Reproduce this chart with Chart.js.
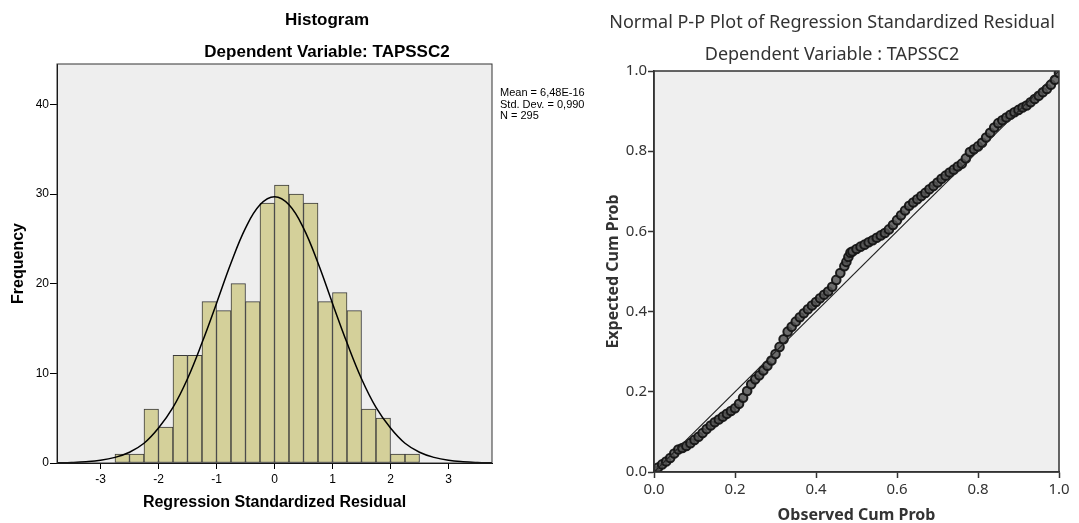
<!DOCTYPE html>
<html>
<head>
<meta charset="utf-8">
<script src="https://cdn.jsdelivr.net/npm/chart.js@4.4.1/dist/chart.umd.min.js"></script>
<style>
  body { margin: 0; background: #fff; width: 1079px; height: 523px; overflow: hidden; position: relative; }
  #histWrap { position: absolute; left: 0; top: 0; width: 654px; height: 523px; }
  #ppWrap { position: absolute; left: 585px; top: 0; width: 494px; height: 523px; }
  #stats { position: absolute; left: 500px; top: 87px; font: 11px "Liberation Sans", Arial, sans-serif; line-height: 11.5px; color: #000; z-index: 5; }
</style>
</head>
<body>
<div id="histWrap"><canvas id="histChart" width="654" height="523"></canvas></div>
<div id="ppWrap"><canvas id="ppChart" width="494" height="523"></canvas></div>
<div id="stats">Mean = 6,48E-16<br>Std. Dev. = 0,990<br>N = 295</div>
<script>
// Histogram bins (centre of each 0.25 wide bin) and counts
const binCenters = [-2.625, -2.375, -2.125, -1.875, -1.625, -1.375, -1.125, -0.875, -0.625, -0.375, -0.125,
                    0.125, 0.375, 0.625, 0.875, 1.125, 1.375, 1.625, 1.875, 2.125, 2.375];
const frequencies = [1, 1, 6, 4, 12, 12, 18, 17, 20, 18, 29, 31, 30, 29, 18, 19, 17, 6, 5, 1, 1];

// Normal curve
const curveX = [-3.75, -3.5, -3.25, -3, -2.75, -2.5, -2.25, -2, -1.75, -1.5, -1.25, -1, -0.75, -0.5, -0.25, 0,
                0.25, 0.5, 0.75, 1, 1.25, 1.5, 1.75, 2, 2.25, 2.5, 2.75, 3, 3.25, 3.5, 3.75];
const curveY = [0.02, 0.06, 0.14, 0.30, 0.63, 1.2, 2.2, 3.9, 6.2, 9.4, 13.4, 17.8, 22.3, 26.2, 28.8, 29.7,
                28.8, 26.2, 22.3, 17.8, 13.4, 9.4, 6.2, 3.9, 2.2, 1.2, 0.63, 0.30, 0.14, 0.06, 0.02];

const histXTicks = [-3, -2, -1, 0, 1, 2, 3];
const histYTicks = [0, 10, 20, 30, 40];

// P-P plot points
const ppObserved = [0.00, 0.01, 0.02, 0.03, 0.04, 0.05, 0.06, 0.07, 0.08, 0.09,
                    0.10, 0.11, 0.12, 0.13, 0.14, 0.15, 0.16, 0.17, 0.18, 0.19,
                    0.20, 0.21, 0.22, 0.23, 0.24, 0.25, 0.26, 0.27, 0.28, 0.29,
                    0.30, 0.31, 0.32, 0.33, 0.34, 0.35, 0.36, 0.37, 0.38, 0.39,
                    0.40, 0.41, 0.42, 0.43, 0.44, 0.45, 0.46, 0.47, 0.475, 0.48, 0.485,
                    0.49, 0.50, 0.51, 0.52, 0.53, 0.54, 0.55, 0.56, 0.57, 0.58, 0.59,
                    0.60, 0.61, 0.62, 0.63, 0.64, 0.65, 0.66, 0.67, 0.68, 0.69,
                    0.70, 0.71, 0.72, 0.73, 0.74, 0.75, 0.76, 0.77, 0.78, 0.79,
                    0.80, 0.81, 0.82, 0.83, 0.84, 0.85, 0.86, 0.87, 0.88, 0.89,
                    0.90, 0.91, 0.92, 0.93, 0.94, 0.95, 0.96, 0.97, 0.98, 0.99, 1.00];
const ppExpected = [0.003, 0.011, 0.019, 0.026, 0.035, 0.046, 0.056, 0.060, 0.065, 0.072,
                    0.080, 0.088, 0.097, 0.107, 0.116, 0.124, 0.131, 0.138, 0.145, 0.152,
                    0.159, 0.170, 0.185, 0.202, 0.219, 0.231, 0.241, 0.253, 0.265, 0.278,
                    0.294, 0.312, 0.331, 0.350, 0.362, 0.375, 0.386, 0.396, 0.406, 0.415,
                    0.424, 0.433, 0.442, 0.450, 0.462, 0.479, 0.496, 0.513, 0.524, 0.536, 0.547,
                    0.550, 0.556, 0.562, 0.567, 0.573, 0.578, 0.584, 0.590, 0.596, 0.605, 0.616,
                    0.628, 0.640, 0.652, 0.664, 0.672, 0.680, 0.688, 0.696, 0.705, 0.713,
                    0.722, 0.731, 0.739, 0.747, 0.754, 0.762, 0.769, 0.782, 0.798, 0.805,
                    0.812, 0.821, 0.834, 0.846, 0.859, 0.870, 0.877, 0.884, 0.891, 0.897,
                    0.903, 0.909, 0.914, 0.922, 0.930, 0.938, 0.947, 0.955, 0.966, 0.978, 0.995];
const diagonal = [0, 1];
const ppTicks = [0, 0.2, 0.4, 0.6, 0.8, 1.0];

// plot background + frame
const plotFrame = {
    id: 'plotFrame',
    beforeDraw(chart, args, opts) {
        const { ctx, chartArea: a } = chart;
        ctx.save();
        ctx.fillStyle = opts.fill;
        ctx.fillRect(a.left, a.top, a.right - a.left, a.bottom - a.top);
        ctx.restore();
    },
    afterDraw(chart, args, opts) {
        const { ctx, chartArea: a } = chart;
        ctx.save();
        ctx.strokeStyle = opts.stroke;
        ctx.lineWidth = opts.width;
        ctx.strokeRect(a.left, a.top, a.right - a.left, a.bottom - a.top);
        ctx.restore();
    }
};

// empty axis on the right, only to reserve space so titles stay centred on the whole canvas
function spacer(w) {
    return {
        type: 'linear', position: 'right', min: 0, max: 1,
        afterFit: scale => { scale.width = w; },
        ticks: { display: false },
        grid: { display: false },
        border: { display: false }
    };
}

const arial = '"Liberation Sans", Arial, sans-serif';
const noto = '"Noto Sans", "Open Sans", sans-serif';

new Chart(document.getElementById('histChart'), {
    type: 'bar',
    data: {
        datasets: [{
            type: 'line',
            data: curveX.map((x, i) => ({ x: x, y: curveY[i] })),
            borderColor: '#000',
            borderWidth: 1.5,
            pointRadius: 0,
            tension: 0.4,
            fill: false,
            order: 0
        }, {
            data: binCenters.map((x, i) => ({ x: x, y: frequencies[i] })),
            backgroundColor: '#d4d09a',
            borderColor: '#3a3a3a',
            borderWidth: 1,
            borderSkipped: false,
            barPercentage: 1,
            categoryPercentage: 1,
            order: 1
        }]
    },
    options: {
        responsive: false,
        animation: false,
        layout: { padding: 0 },
        plugins: {
            legend: { display: false },
            tooltip: { enabled: false },
            title: {
                display: true,
                text: 'Histogram',
                color: '#000',
                font: { family: arial, size: 17, weight: 'bold' },
                padding: { top: 10, bottom: 0 }
            },
            subtitle: {
                display: true,
                text: 'Dependent Variable: TAPSSC2',
                color: '#000',
                font: { family: arial, size: 17, weight: 'bold' },
                padding: { top: 11.4, bottom: 1.8 }
            },
            plotFrame: { fill: '#eeeeee', stroke: '#333', width: 1 }
        },
        scales: {
            x: {
                type: 'linear',
                min: -3.75,
                max: 3.75,
                offset: false,
                afterBuildTicks: axis => { axis.ticks = histXTicks.map(v => ({ value: v })); },
                afterFit: scale => { scale.height = 60; },
                ticks: { color: '#000', font: { family: arial, size: 12 }, padding: 3, maxRotation: 0 },
                grid: { drawOnChartArea: false, offset: false, tickLength: 6, tickColor: '#000' },
                border: { color: '#000', width: 1 },
                title: {
                    display: true,
                    text: 'Regression Standardized Residual',
                    color: '#000',
                    font: { family: arial, size: 16, weight: 'bold' },
                    padding: { top: 0, bottom: 11 }
                }
            },
            y: {
                min: 0,
                max: 44.5,
                afterBuildTicks: axis => { axis.ticks = histYTicks.map(v => ({ value: v })); },
                afterFit: scale => { scale.width = 57; },
                ticks: { color: '#000', font: { family: arial, size: 12 }, padding: 1 },
                grid: { drawOnChartArea: false, tickLength: 7, tickColor: '#000' },
                border: { color: '#000', width: 1 },
                title: {
                    display: true,
                    text: 'Frequency',
                    color: '#000',
                    font: { family: arial, size: 16, weight: 'bold' },
                    padding: { top: 9, bottom: 0 }
                }
            },
            pad: spacer(162)
        }
    },
    plugins: [plotFrame]
});

new Chart(document.getElementById('ppChart'), {
    type: 'scatter',
    data: {
        datasets: [{
            data: ppObserved.map((x, i) => ({ x: x, y: ppExpected[i] })),
            pointRadius: 4.3,
            pointBorderWidth: 2,
            pointBorderColor: 'rgba(20,20,20,0.95)',
            pointBackgroundColor: 'rgba(85,85,85,0.85)',
            order: 1
        }, {
            data: diagonal.map(v => ({ x: v, y: v })),
            showLine: true,
            borderColor: '#222',
            borderWidth: 1.2,
            pointRadius: 0,
            order: 0
        }]
    },
    options: {
        responsive: false,
        animation: false,
        layout: { padding: 0 },
        plugins: {
            legend: { display: false },
            tooltip: { enabled: false },
            title: {
                display: true,
                text: 'Normal P-P Plot of Regression Standardized Residual',
                color: '#333',
                font: { family: noto, size: 18, weight: 'normal' },
                padding: { top: 12, bottom: 0 }
            },
            subtitle: {
                display: true,
                text: 'Dependent Variable : TAPSSC2',
                color: '#333',
                font: { family: noto, size: 18, weight: 'normal' },
                padding: { top: 10.6, bottom: 5.2 }
            },
            plotFrame: { fill: '#efefef', stroke: '#333', width: 1.5 }
        },
        scales: {
            x: {
                type: 'linear',
                min: 0,
                max: 1,
                afterBuildTicks: axis => { axis.ticks = ppTicks.map(v => ({ value: v })); },
                afterFit: scale => { scale.height = 51; },
                ticks: { color: '#333', font: { family: noto, size: 15 }, padding: 3, maxRotation: 0,
                         callback: v => v.toFixed(1) },
                grid: { drawOnChartArea: false, tickLength: 6, tickColor: '#333', tickWidth: 1.5 },
                border: { color: '#333', width: 1.5 },
                title: {
                    display: true,
                    text: 'Observed Cum Prob',
                    color: '#333',
                    font: { family: noto, size: 16, weight: 'bold', lineHeight: 1.0 },
                    padding: { top: 0, bottom: 0 }
                }
            },
            y: {
                min: 0,
                max: 1,
                afterBuildTicks: axis => { axis.ticks = ppTicks.map(v => ({ value: v })); },
                afterFit: scale => { scale.width = 69; },
                ticks: { color: '#333', font: { family: noto, size: 15 }, padding: 1,
                         callback: v => v.toFixed(1) },
                grid: { drawOnChartArea: false, tickLength: 6, tickColor: '#333', tickWidth: 1.5 },
                border: { color: '#333', width: 1.5 },
                title: {
                    display: true,
                    text: 'Expected Cum Prob',
                    color: '#333',
                    font: { family: noto, size: 16, weight: 'bold' },
                    padding: { top: 18.4, bottom: 0 }
                }
            },
            pad: spacer(20)
        }
    },
    plugins: [plotFrame]
});
</script>
</body>
</html>
